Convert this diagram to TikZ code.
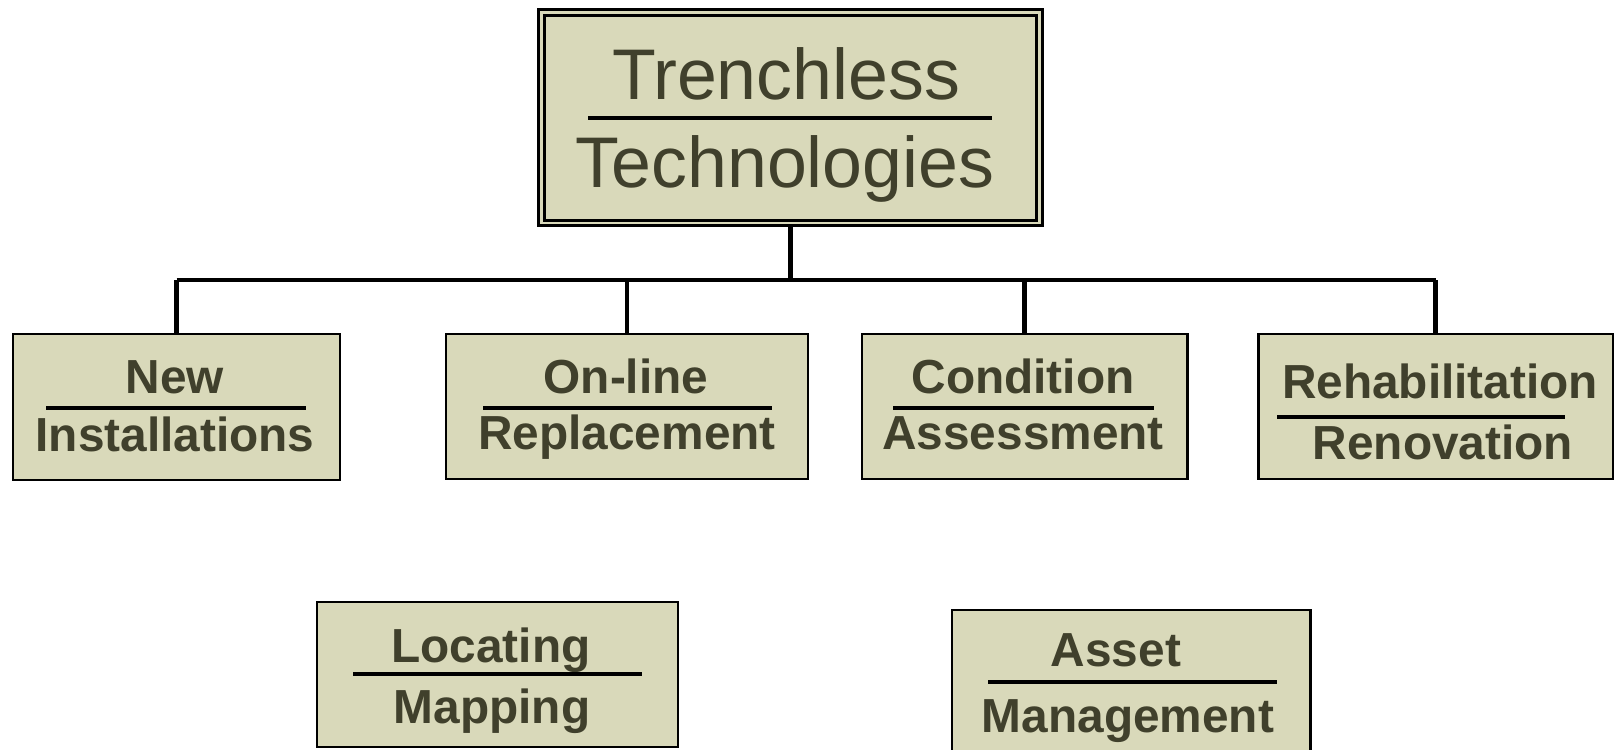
\documentclass[tikz,border=0pt]{standalone}
\usepackage{fontspec}
\setmainfont{Liberation Sans}
\usepackage{xcolor}
\definecolor{khaki}{RGB}{217,217,186}
\definecolor{olive}{RGB}{64,64,44}
\usepackage{tikz}
\usetikzlibrary{positioning, fit}

\tikzset{
    catbox/.style={draw=black, line width=0.85pt, fill=khaki, inner sep=0pt},
    headbox/.style={draw=black, line width=0.9pt, double=khaki, double distance=0.75pt, fill=khaki, inner sep=0pt},
    catlabel/.style={font=\fontsize{13.6}{16}\selectfont\bfseries, text=olive, anchor=base, inner sep=0pt},
    headlabel/.style={font=\fontsize{20.4}{24}\selectfont, text=olive, anchor=base, inner sep=0pt},
    split/.style={line width=0.9pt},
    link/.style={line width=1.3pt}
}

\begin{document}
\begin{tikzpicture}[x=0.1mm, y=-0.1mm]
    \useasboundingbox (0,0) rectangle (1614,750);

    % Titre principal
    \node[headbox, fit={(541.5,12.5) (1039.5,223)}] (trench) {};
    \node[headlabel] (trench-a) at (786,100) {Trenchless};
    \node[headlabel] (trench-b) at (785,188) {Technologies};
    \draw[split] (588,118) -- (992,118);

    % Branches
    \node[catbox, fit={(13,334) (340,480)}] (newinst) {};
    \node[catlabel] (newinst-a) at (175,394) {New};
    \node[catlabel] (newinst-b) at (175,452) {Installations};
    \draw[split] (46,408) -- (306,408);

    \node[catbox, fit={(446,334) (808,479)}] (online) {};
    \node[catlabel] (online-a) at (626,394) {On-line};
    \node[catlabel] (online-b) at (627,450) {Replacement};
    \draw[split] (483,408) -- (772,408);

    \node[catbox, fit={(862,334) (1187,479)}] (condition) {};
    \node[catlabel] (condition-a) at (1023,394) {Condition};
    \node[catlabel] (condition-b) at (1023,450) {Assessment};
    \draw[split] (893,408) -- (1154,408);

    \node[catbox, fit={(1258,334) (1613,479)}] (rehab) {};
    \node[catlabel] (rehab-a) at (1440,399) {Rehabilitation};
    \node[catlabel] (rehab-b) at (1443,460) {Renovation};
    \draw[split] (1277,417) -- (1565,417);

    % Liaisons
    \coordinate (bus) at (789,280);
    \draw[link] (trench.south) -- (trench.south |- bus);
    \draw[link] (newinst.north |- bus) -- (rehab.north |- bus);
    \foreach \b in {newinst, online, condition, rehab}
        \draw[link] (\b.north) -- (\b.north |- bus);

    % Blocs isolés
    \node[catbox, fit={(317,602) (678,747)}] (locating) {};
    \node[catlabel] (locating-a) at (491,662) {Locating};
    \node[catlabel] (locating-b) at (492,723) {Mapping};
    \draw[split] (353,674) -- (642,674);

    \node[catbox, fit={(952,610) (1310,770)}] (asset) {};
    \node[catlabel] (asset-a) at (1116,667) {Asset};
    \node[catlabel] (asset-b) at (1128,732) {Management};
    \draw[split] (988,682) -- (1277,682);
\end{tikzpicture}
\end{document}
